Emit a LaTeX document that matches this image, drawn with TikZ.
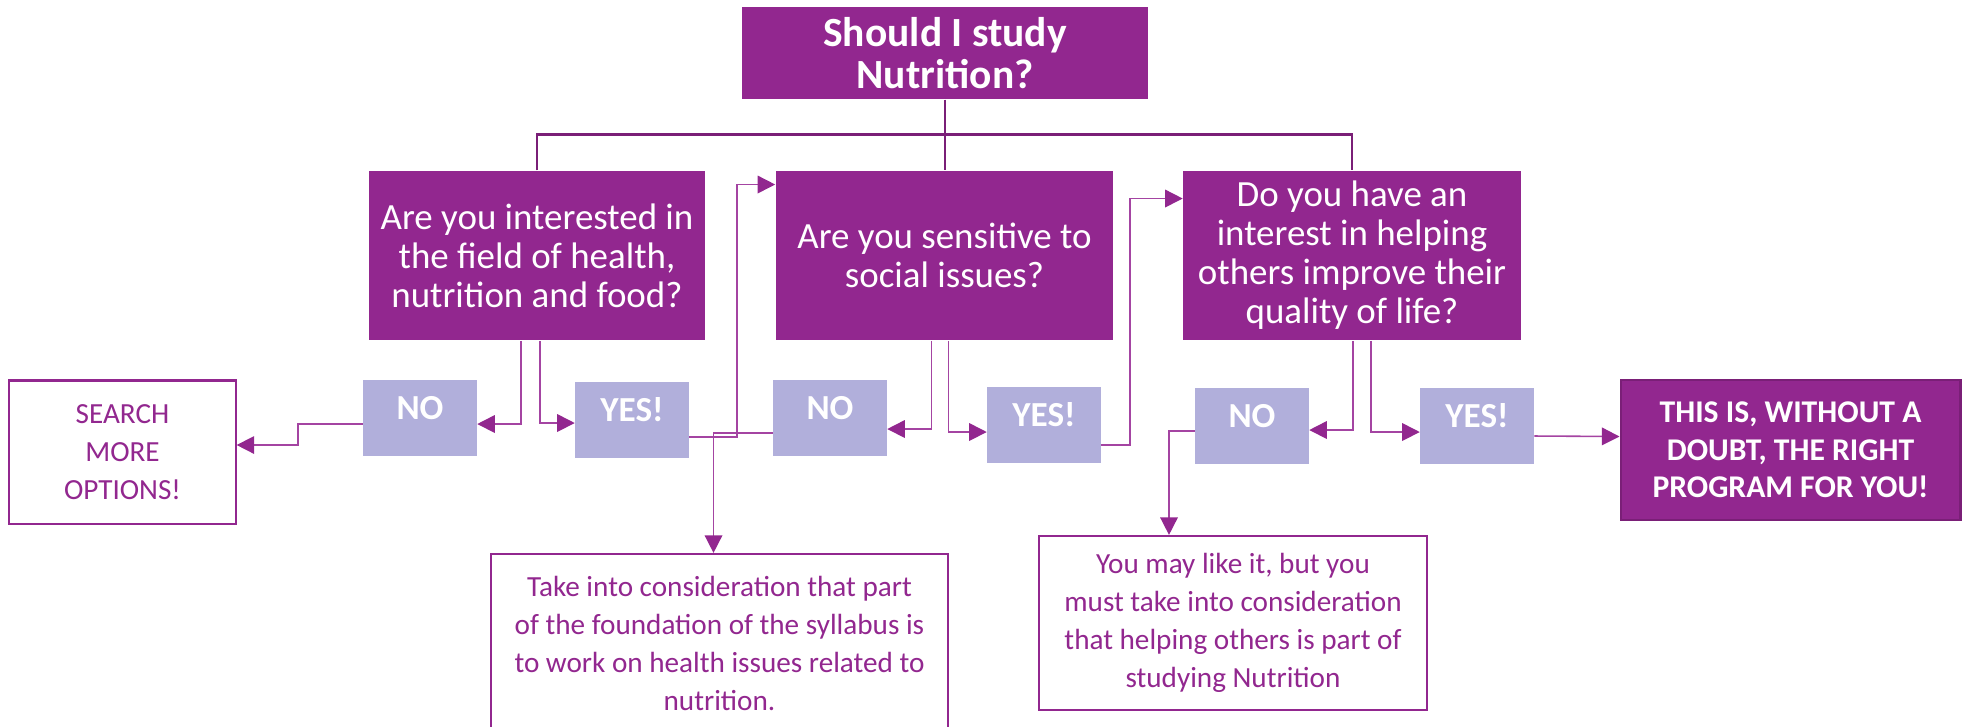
\documentclass[tikz,border=0pt]{standalone}
\usepackage{fontspec}
\setmainfont{Carlito}
\usepackage{tikz}
\usetikzlibrary{calc,arrows.meta,positioning}
\definecolor{plum}{HTML}{92278F}
\definecolor{plumdark}{HTML}{7A1F77}
\definecolor{lilac}{HTML}{B1AFDB}
\definecolor{wire}{HTML}{A444A2}

\begin{document}
\begin{tikzpicture}[x=0.01cm, y=-0.01cm,
    title/.style={fill=plum, text=white, align=center, inner sep=0pt, font=\fontsize{11.8}{11.8}\selectfont\bfseries},
    question/.style={fill=plum, text=white, align=center, inner sep=0pt, minimum height=1.69cm, font=\fontsize{10.5}{11.1}\selectfont},
    answer/.style={fill=lilac, text=white, inner sep=0pt, minimum width=1.13cm, minimum height=0.755cm, text height=7pt, text depth=6pt, font=\fontsize{10}{12}\selectfont\bfseries},
    note/.style={draw=plum, line width=0.6pt, fill=white, text=plum, align=center, inner sep=0pt, font=\fontsize{8.3}{10.8}\selectfont},
    verdict/.style={draw=plumdark, line width=0.8pt, fill=plum, text=white, align=center, inner sep=0pt, font=\fontsize{9}{10.7}\selectfont\bfseries},
    tree/.style={draw=plumdark, line width=0.65pt},
    link/.style={draw=wire, line width=0.45pt, -{Triangle[length=5pt, width=5pt, color=plum]}}]
\path[use as bounding box] (0,0) rectangle (1970,726);
\clip (0,0) rectangle (1970,726);

\node[title, minimum width=4.06cm, minimum height=0.92cm] (top) at (945,53) {Should I study\\Nutrition?};
\node[question, minimum width=3.35cm] (q1) at (537,255.5) {Are you interested in\\the field of health,\\nutrition and food?};
\node[question, minimum width=3.37cm] (q2) at (944.5,255.5) {Are you sensitive to\\social issues?};
\node[question, minimum width=3.37cm] (q3) at (1352,255.5) {Do you have an\\interest in helping\\others improve their\\quality of life?};

\node[answer] (no1) at (420,418) {NO};
\node[answer] (yes1) at (632,420) {YES!};
\node[answer] (no2) at (830,418) {NO};
\node[answer] (yes2) at (1044,425) {YES!};
\node[answer] (no3) at (1252,426) {NO};
\node[answer] (yes3) at (1477,426) {YES!};

\node[note, minimum width=2.26cm, minimum height=1.43cm] (search) at (122.5,452) {SEARCH\\MORE\\OPTIONS!};
\node[verdict, minimum width=3.39cm, minimum height=1.4cm] (final) at (1790.5,450) {THIS IS, WITHOUT A\\DOUBT, THE RIGHT\\PROGRAM FOR YOU!};
\node[note, minimum width=4.57cm, minimum height=1.78cm] (take) at (719.5,643) {Take into consideration that part\\of the foundation of the syllabus is\\to work on health issues related to\\nutrition.};
\node[note, minimum width=3.88cm, minimum height=1.74cm] (maybe) at (1233,623) {You may like it, but you\\must take into consideration\\that helping others is part of\\studying Nutrition};

\coordinate (bus) at (945,134.5);
\draw[tree] (top.south) -- (bus);
\draw[tree] (q1.north) |- (bus) -| (q3.north);
\draw[tree] (bus) -- (bus |- q2.north);

\draw[link] ($(q1.south)+(-16,0)$) |- ($(no1.east)+(0,6)$);
\draw[link] ($(q1.south)+(3,0)$) |- ($(yes1.west)+(0,3)$);
\draw[link] ($(no1.west)+(0,6)$) -- ++(-65,0) |- ($(search.east)+(0,-7)$);
\draw[link] ($(yes1.east)+(0,17)$) -- ++(48,0) |- ($(q2.west)+(0,-71)$);
\draw[link] ($(no2.west)+(0,15)$) -| ($(take.north)+(-6,0)$);
\draw[link] ($(q2.south)+(-13,0)$) |- ($(no2.east)+(0,11)$);
\draw[link] ($(q2.south)+(4,0)$) |- ($(yes2.west)+(0,7)$);
\draw[link] ($(yes2.east)+(0,20)$) -- ++(29,0) |- ($(q3.west)+(0,-57)$);
\draw[link] ($(q3.south)+(1,0)$) |- ($(no3.east)+(0,4)$);
\draw[link] ($(q3.south)+(19,0)$) |- ($(yes3.west)+(0,6)$);
\draw[link] ($(no3.west)+(0,5)$) -| ($(maybe.north)+(-64,0)$);
\draw[link] ($(yes3.east)+(0,10)$) -- ($(final.west)+(0,-13.5)$);

\end{tikzpicture}
\end{document}
